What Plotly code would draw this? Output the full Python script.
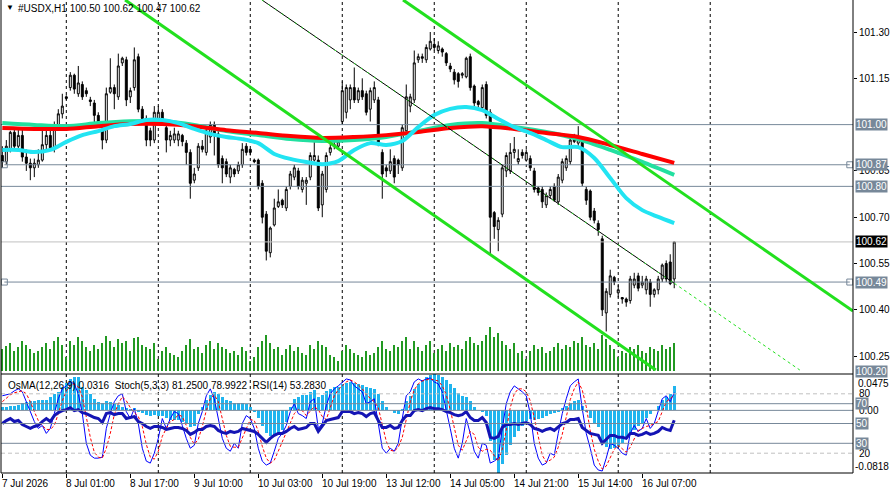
import plotly.graph_objects as go

# ---------------- data ----------------
open_ = [100.90,100.88,100.92,100.975,100.93,100.965,100.895,100.875,100.86,100.87,
         100.885,100.935,100.965,100.925,101.00,101.035,101.09,101.12,101.16,101.10,
         101.13,101.11,101.08,101.07,101.03,100.98,100.95,101.105,101.12,101.09,
         101.20,101.21,101.09,101.12,101.22,101.05,101.02,100.98,100.95,101.02,
         101.04,100.99,100.95,100.95,100.95,100.965,100.94,100.91,100.82,100.86,
         100.93,100.91,100.96,101.00,100.97,100.89,100.88,100.83,100.855,100.85,
         100.87,100.93,100.92,100.885,100.885,100.81,100.71,100.585,100.675,100.735,
         100.755,100.73,100.80,100.83,100.85,100.79,100.81,100.83,100.885,100.885,
         100.74,100.79,100.91,100.93,100.93,101.01,101.04,101.08,101.12,101.08,
         101.11,101.10,101.05,101.08,101.08,100.91,100.86,100.85,100.89,100.885,
         100.86,100.98,101.06,101.08,101.21,101.22,101.21,101.245,101.26,101.24,
         101.245,101.23,101.19,101.17,101.165,101.16,101.155,101.22,101.125,101.075,
         101.055,101.13,101.04,100.715,100.66,100.71,100.85,100.85,100.91,100.88,
         100.91,100.885,100.89,100.85,100.795,100.79,100.74,100.77,100.80,100.75,
         100.82,100.86,100.88,100.945,100.94,100.95,100.79,100.785,100.72,100.68,
         100.63,100.39,100.45,100.505,100.455,100.44,100.435,100.43,100.48,100.51,
         100.48,100.465,100.49,100.45,100.465,100.50,100.55,100.555,100.50]
high_ = [100.93,100.95,100.98,100.99,100.985,100.99,100.92,100.89,100.89,100.92,
         100.99,100.98,100.98,101.01,101.05,101.10,101.095,101.17,101.165,101.19,
         101.14,101.12,101.09,101.08,101.04,101.00,101.12,101.215,101.13,101.23,
         101.22,101.22,101.12,101.25,101.23,101.06,101.03,100.99,101.06,101.06,
         101.05,101.00,100.98,100.99,100.98,100.97,100.95,100.92,100.86,100.94,
         100.95,100.99,101.01,101.01,100.98,100.90,100.89,100.87,100.86,100.88,
         100.94,100.94,100.92,100.89,100.89,100.82,100.72,100.67,100.76,100.79,
         100.76,100.80,100.85,100.87,100.86,100.83,100.83,100.91,100.945,100.90,
         100.85,100.91,100.94,100.95,100.95,101.14,101.13,101.13,101.185,101.12,
         101.15,101.11,101.12,101.14,101.09,100.92,100.87,100.92,100.90,100.89,
         101.00,101.13,101.10,101.24,101.23,101.23,101.26,101.30,101.28,101.27,
         101.25,101.235,101.20,101.18,101.17,101.17,101.22,101.23,101.13,101.08,
         101.13,101.14,101.05,100.72,100.70,100.87,100.91,100.94,100.96,100.92,
         100.92,100.92,100.90,100.86,100.80,100.80,100.78,100.80,100.81,100.84,
         100.89,100.90,100.96,100.97,100.995,100.96,100.80,100.79,100.73,100.69,
         100.64,100.47,100.53,100.51,100.48,100.44,100.44,100.51,100.52,100.52,
         100.51,100.51,100.50,100.47,100.51,100.55,100.56,100.58,100.62]
low_ = [100.86,100.87,100.91,100.92,100.915,100.88,100.85,100.82,100.83,100.86,
        100.88,100.92,100.92,100.91,100.99,101.02,101.08,101.11,101.10,101.09,
        101.08,101.09,101.06,101.00,100.99,100.92,100.94,101.10,101.05,101.08,
        101.19,101.06,101.07,101.11,101.04,101.01,100.93,100.93,100.94,101.01,
        101.00,100.91,100.93,100.94,100.93,100.93,100.87,100.76,100.81,100.85,
        100.91,100.90,100.94,100.90,100.86,100.81,100.83,100.81,100.83,100.84,
        100.86,100.90,100.90,100.875,100.79,100.68,100.56,100.57,100.67,100.73,
        100.73,100.72,100.79,100.82,100.79,100.78,100.74,100.82,100.88,100.72,
        100.70,100.78,100.90,100.92,100.92,101.00,101.02,101.05,101.07,101.07,
        101.08,101.03,101.01,101.07,100.93,100.76,100.83,100.84,100.81,100.84,
        100.85,100.97,101.04,101.07,101.20,101.20,101.20,101.24,101.24,101.23,
        101.22,101.19,101.17,101.13,101.12,101.15,101.15,101.11,101.06,101.05,
        101.05,101.02,100.58,100.63,100.59,100.70,100.83,100.84,100.89,100.87,
        100.89,100.88,100.85,100.78,100.77,100.73,100.73,100.76,100.75,100.74,
        100.81,100.85,100.87,100.94,100.93,100.80,100.74,100.69,100.68,100.64,
        100.38,100.33,100.44,100.48,100.44,100.42,100.41,100.42,100.47,100.46,
        100.47,100.45,100.41,100.44,100.45,100.49,100.49,100.48,100.47]
close_ = [100.88,100.93,100.975,100.93,100.965,100.895,100.875,100.86,100.875,100.885,
          100.935,100.965,100.925,101.00,101.035,101.06,101.085,101.16,101.115,101.135,
          101.09,101.10,101.075,101.03,101.00,100.95,101.10,101.12,101.10,101.19,
          101.215,101.08,101.11,101.21,101.05,101.02,100.95,100.95,101.04,101.04,
          101.01,100.95,100.965,100.97,100.97,100.945,100.91,100.81,100.84,100.93,
          100.92,100.98,101.00,100.97,100.87,100.86,100.84,100.86,100.84,100.87,
          100.92,100.91,100.91,100.88,100.80,100.70,100.59,100.665,100.73,100.75,
          100.74,100.79,100.84,100.86,100.80,100.82,100.82,100.90,100.90,100.73,
          100.84,100.90,100.925,100.935,100.945,101.11,101.12,101.12,101.08,101.11,
          101.09,101.04,101.11,101.12,100.94,100.84,100.85,100.88,100.83,100.87,
          100.99,101.09,101.09,101.20,101.22,101.215,101.25,101.27,101.25,101.255,
          101.235,101.20,101.18,101.145,101.14,101.165,101.215,101.12,101.07,101.065,
          101.12,101.03,100.70,100.67,100.69,100.86,100.90,100.91,100.92,100.89,
          100.90,100.91,100.86,100.79,100.78,100.75,100.77,100.79,100.755,100.83,
          100.88,100.89,100.95,100.95,100.955,100.81,100.755,100.70,100.69,100.66,
          100.40,100.46,100.51,100.49,100.465,100.435,100.425,100.50,100.50,100.47,
          100.49,100.50,100.45,100.465,100.50,100.545,100.50,100.485,100.62]
volume = [2200,2500,2800,2000,2400,3000,2600,2200,1800,2000,2400,2800,2200,3000,3400,2600,
          1400,3000,2600,3400,3000,2400,2000,2600,2200,2800,3500,3000,2400,3200,2800,3000,2000,3300,3400,2600,2400,2200,2800,
          1200,2000,2400,1800,1600,1400,2000,2600,3200,2200,2400,1800,2600,3000,2200,2800,2400,2200,1800,2000,1600,2400,2000,
          1000,1400,2400,3000,3600,2800,2200,2400,1600,2200,2600,2000,2400,1800,1600,2600,2200,3000,2600,2400,1600,1400,1000,
          2000,2600,2200,1800,1600,1400,2000,1600,1800,2400,3000,2200,2000,2600,2400,3000,3400,2200,3000,2400,2000,2600,3000,
          1800,2200,2600,2000,2800,2400,2600,2200,3000,3400,2800,2600,3000,3600,4400,3400,3800,3000,2600,2200,2800,1800,2000,
          1200,2000,2600,2200,2400,1800,2000,2400,2800,2200,2600,2400,3000,2800,3400,2600,2400,2800,2200,3600,3200,2600,2200,
          1400,2000,1800,2400,2200,2600,2000,1800,2400,2200,2000,2600,2200,2400,2800]

# moving averages (sampled along the bars)
ma_idx_8 = list(range(0, 169, 8))
ma_red = [100.989,100.986,100.986,100.995,101.002,101.002,100.995,100.982,100.973,100.963,100.957,
          100.960,100.966,100.976,100.989,100.995,100.986,100.973,100.960,100.934,100.905,100.876]
ma_teal = [101.005,100.999,100.995,101.005,101.011,101.011,100.999,100.979,100.966,100.953,100.947,
           100.950,100.960,100.979,100.999,101.005,100.992,100.976,100.953,100.918,100.879,100.837]
ma_idx_4 = list(range(0, 169, 4))
ma_cyan = [100.918,100.918,100.911,100.918,100.944,100.966,100.979,100.995,101.002,101.015,101.015,
           101.005,100.986,100.970,100.960,100.953,100.940,100.905,100.889,100.879,100.872,100.882,
           100.918,100.940,100.934,100.947,100.992,101.031,101.051,101.057,101.047,101.018,100.992,
           100.973,100.950,100.927,100.927,100.892,100.827,100.762,100.723,100.701,100.681]

# trend / channel lines (bar index, price anchors)
lower_ch_idx = [30.7, 163.4]; lower_ch_px = [101.404, 100.205]
upper_ch_idx = [100.2, 212.7]; upper_ch_px = [101.404, 100.396]
trend_idx = [64.9, 168.0]; trend_px = [101.404, 100.486]
trend_ext_idx = [168.0, 199.4]; trend_ext_px = [100.486, 100.205]

full_levels = [101.00, 100.80]
bottom_level = 100.20
seg_levels = [100.87, 100.49]
seg_idx = [0.5, 211.9]
bid_level = 100.62

osma = [0.004,0.005,0.006,0.006,0.007,0.010,0.011,0.012,0.012,0.013,0.013,0.014,0.018,0.021,0.024,0.030,
        0.036,0.041,0.043,0.044,0.030,0.027,0.022,0.015,0.011,0.009,0.012,0.011,0.008,0.007,0.005,0.003,
        0.002,0.003,-0.002,-0.004,-0.006,-0.007,-0.006,-0.007,
        -0.008,-0.010,-0.012,-0.013,-0.013,-0.015,-0.018,-0.022,-0.020,
        -0.005,0.005,0.013,0.020,0.024,0.022,0.018,0.014,0.012,0.010,0.009,0.010,0.008,0.004,
        -0.002,-0.010,-0.020,-0.030,-0.034,-0.033,-0.030,-0.025,-0.015,0.005,0.015,0.018,0.020,0.020,
        0.024,0.026,0.018,0.020,0.025,0.028,0.030,0.031,
        0.035,0.036,0.037,0.036,0.035,0.033,0.030,0.029,0.028,0.022,0.012,0.004,0.000,-0.004,-0.005,
        0.002,0.012,0.019,0.028,0.035,0.040,0.044,0.046,0.0475,0.046,0.044,0.040,0.035,0.029,0.023,
        0.019,0.018,0.012,0.005,0.000,-0.002,-0.008,
        -0.040,-0.065,-0.0818,-0.070,-0.058,-0.045,-0.035,-0.027,-0.020,-0.014,-0.011,-0.012,-0.011,
        -0.010,-0.008,-0.005,-0.004,-0.001,0.003,0.006,0.010,0.012,0.013,0.006,-0.002,-0.010,-0.016,
        -0.022,-0.040,-0.048,-0.050,-0.049,-0.046,-0.042,-0.038,-0.031,-0.026,-0.021,-0.016,-0.010,
        -0.005,0.000,0.006,0.013,0.018,0.022,0.0316]
stoch_main = [78,79,80,83,85,82,72,62,52,45, 48,40,45,60,75,85,88,92,90,80,
              60,30,18,15,15,16,45,60,72,78, 80,62,55,65,50,25,12,10,20,35,
              55,45,55,62,60,48,35,25,28,50, 62,78,85,75,55,35,25,22,30,25,
              50,58,55,45,25,12,8,10,22,35, 40,48,62,70,60,58,55,72,75,45,
              50,68,80,85,88,92,95,94,88,85, 82,70,72,75,50,25,20,25,22,30,
              55,78,82,92,95,93,95,96,92,90, 82,65,45,25,15,30,55,40,22,15,
              30,28,10,12,15,45,70,82,88,85, 82,78,60,30,15,8,10,20,18,40,
              60,75,88,92,95,65,40,25,8,3, 2,15,30,28,25,20,18,40,48,42,
              45,55,45,50,62,75,78,72,81.25]
stoch_signal = [72,76,79,81,82,83,80,72,62,53, 48,44,44,48,60,73,83,88,90,87,
                77,57,36,21,16,15,25,40,59,70, 77,73,66,61,57,47,29,16,14,22,
                37,45,52,54,59,57,48,36,29,34, 47,63,75,79,72,55,38,27,26,26,
                35,44,54,53,42,27,15,10,13,22, 32,41,50,60,64,63,58,62,67,64,
                57,54,66,78,84,88,92,94,92,89, 85,79,75,72,66,50,32,23,22,26,
                36,54,72,84,90,93,94,95,94,93, 88,79,64,45,28,23,33,42,39,26,
                22,24,23,17,12,24,43,66,80,85, 85,82,73,56,35,18,11,13,16,26,
                39,58,74,85,92,84,67,43,24,12, 4,7,16,24,28,24,21,26,35,43,
                45,47,48,50,52,62,72,75,78.99]
rsi = [50,53,55,52,53,49,47,45,47,48, 52,55,52,58,61,63,64,66,63,64,
       61,60,58,56,55,51,60,61,59,60, 60,55,56,57,52,50,47,45,47,47,
       46,44,45,46,46,45,43,39,41,44, 44,47,48,47,43,41,40,42,41,42,
       45,44,43,42,39,35,31,35,38,40, 40,42,45,47,44,45,46,50,50,42,
       48,53,54,55,56,62,62,62,60,61, 60,57,60,61,53,46,46,48,45,46,
       53,58,58,63,64,63,65,66,65,65, 64,62,61,59,58,59,62,56,53,53,
       56,51,36,35,37,46,49,49,50,49, 50,51,49,45,44,42,44,45,43,47,
       50,51,54,54,55,46,43,40,39,38, 30,34,38,38,36,36,35,40,40,38,
       39,41,39,40,42,46,44,43,53.28]

tick_idx = [0, 16, 32, 48, 64, 80, 96, 112, 128, 144, 160]
tick_text = ["7 Jul 2026", "8 Jul 01:00", "8 Jul 17:00", "9 Jul 10:00", "10 Jul 03:00",
             "10 Jul 19:00", "13 Jul 12:00", "14 Jul 05:00", "14 Jul 21:00", "15 Jul 14:00",
             "16 Jul 07:00"]
day_sep_idx = [16, 39, 62, 85, 108, 131, 154, 177]
price_ticks = [100.25, 100.40, 100.55, 100.70, 100.85, 101.15, 101.30]

# ---------------- figure ----------------
idx = list(range(len(close_)))
FONT = "Liberation Sans"
MAIN_BOTTOM = 0.2156
IND_TOP = 0.2093
SLATE = "#778899"

fig = go.Figure()

fig.add_trace(go.Bar(x=idx, y=volume, xaxis="x", yaxis="y", width=0.45,
                     marker=dict(color="#229922", line=dict(width=0))))

fig.add_trace(go.Candlestick(x=idx, open=open_, high=high_, low=low_, close=close_,
                             xaxis="x", yaxis="y2", whiskerwidth=0,
                             increasing=dict(line=dict(color="black", width=1), fillcolor="white"),
                             decreasing=dict(line=dict(color="black", width=1), fillcolor="black")))

for lv in full_levels:
    fig.add_trace(go.Scatter(x=[-1, 214], y=[lv, lv], xaxis="x", yaxis="y2", mode="lines",
                             line=dict(color=SLATE, width=1)))
fig.add_trace(go.Scatter(x=[-1, 214], y=[bid_level, bid_level], xaxis="x", yaxis="y2", mode="lines",
                         line=dict(color="#c0c0c0", width=1)))
for lv in seg_levels:
    fig.add_trace(go.Scatter(x=seg_idx, y=[lv, lv], xaxis="x", yaxis="y2", mode="lines+markers",
                             line=dict(color=SLATE, width=1),
                             marker=dict(symbol="square-open", size=6, color=SLATE, line=dict(width=1))))

fig.add_trace(go.Scatter(x=ma_idx_8, y=ma_teal, xaxis="x", yaxis="y2", mode="lines",
                         line=dict(color="#22e0a0", width=4, shape="spline", smoothing=0.8)))
fig.add_trace(go.Scatter(x=ma_idx_8, y=ma_red, xaxis="x", yaxis="y2", mode="lines",
                         line=dict(color="#ff0000", width=4, shape="spline", smoothing=0.8)))
fig.add_trace(go.Scatter(x=ma_idx_4, y=ma_cyan, xaxis="x", yaxis="y2", mode="lines",
                         line=dict(color="#22e4f2", width=4, shape="spline", smoothing=0.8)))

for xs, ys in [(lower_ch_idx, lower_ch_px), (upper_ch_idx, upper_ch_px)]:
    fig.add_trace(go.Scatter(x=xs, y=ys, xaxis="x", yaxis="y2", mode="lines",
                             line=dict(color="#22e01e", width=3)))
fig.add_trace(go.Scatter(x=trend_idx, y=trend_px, xaxis="x", yaxis="y2", mode="lines",
                         line=dict(color="black", width=1)))
fig.add_trace(go.Scatter(x=trend_idx, y=trend_px, xaxis="x", yaxis="y2", mode="lines",
                         line=dict(color="#22e01e", width=1, dash="2px,6px")))
fig.add_trace(go.Scatter(x=trend_ext_idx, y=trend_ext_px, xaxis="x", yaxis="y2", mode="lines",
                         line=dict(color="#22e01e", width=1, dash="3px,3px")))

# indicator window
fig.add_trace(go.Bar(x=idx, y=osma, xaxis="x2", yaxis="y3", width=0.65,
                     marker=dict(color="#20b4ee", line=dict(width=0))))
fig.add_trace(go.Scatter(x=idx, y=stoch_main, xaxis="x2", yaxis="y4", mode="lines",
                         line=dict(color="#0000ff", width=1)))
fig.add_trace(go.Scatter(x=idx, y=stoch_signal, xaxis="x2", yaxis="y4", mode="lines",
                         line=dict(color="#ff0000", width=1, dash="3px,2px")))
fig.add_trace(go.Scatter(x=idx, y=rsi, xaxis="x2", yaxis="y4", mode="lines",
                         line=dict(color="#1414b4", width=3)))

shapes = []
for d in day_sep_idx:
    shapes.append(dict(type="line", xref="x", yref="paper", x0=d, x1=d, y0=0, y1=1, layer="below",
                       line=dict(color="black", width=1, dash="3px,3px")))
for lv in [80, 20]:
    shapes.append(dict(type="line", xref="paper", yref="y4", x0=0, x1=1, y0=lv, y1=lv,
                       line=dict(color="#c0c0c0", width=1, dash="4px,3px")))
for lv in [70, 50, 30]:
    shapes.append(dict(type="line", xref="paper", yref="y4", x0=0, x1=1, y0=lv, y1=lv,
                       line=dict(color=SLATE, width=1)))
shapes.append(dict(type="line", xref="paper", yref="y3", x0=0, x1=1, y0=0, y1=0,
                   line=dict(color=SLATE, width=1)))
# frames
shapes += [
    dict(type="line", xref="paper", yref="paper", x0=0, x1=0, y0=0, y1=1, line=dict(color="black", width=1)),
    dict(type="line", xref="paper", yref="paper", x0=1, x1=1, y0=0, y1=1, line=dict(color="black", width=1)),
    dict(type="line", xref="paper", yref="paper", x0=0, x1=1, y0=IND_TOP, y1=IND_TOP, line=dict(color="black", width=1)),
    dict(type="line", xref="paper", yref="paper", x0=0, x1=1, y0=0, y1=0, line=dict(color="black", width=1)),
    dict(type="rect", xref="paper", yref="paper", x0=-0.01, x1=1.05, y0=-0.0465, y1=-0.06,
         fillcolor="#f0f0f0", line=dict(width=0)),
]

ann = []
ann.append(dict(xref="paper", yref="paper", x=0, y=1, xanchor="left", yanchor="top", xshift=3, yshift=-1,
                text="▼", showarrow=False, font=dict(family=FONT, size=8, color="black")))
ann.append(dict(xref="paper", yref="paper", x=0, y=1, xanchor="left", yanchor="top", xshift=15, yshift=-1,
                text="#USDX,H1 100.50 100.62 100.47 100.62", showarrow=False,
                font=dict(family=FONT, size=10, color="black")))
ann.append(dict(xref="paper", yref="paper", x=0, y=IND_TOP, xanchor="left", yanchor="top", xshift=5, yshift=-4,
                text="OsMA(12,26,9) 0.0316\u00a0\u00a0Stoch(5,3,3) 81.2500 78.9922\u00a0\u00a0RSI(14) 53.2830",
                showarrow=False, font=dict(family=FONT, size=10, color="black")))
for t, lab in zip(tick_idx, tick_text):
    ann.append(dict(xref="x2", yref="paper", x=t, y=0, xanchor="left", yanchor="top", xshift=-2, yshift=-3,
                    text=lab, showarrow=False, font=dict(family=FONT, size=10, color="black")))
for lv in full_levels + seg_levels:
    ann.append(dict(xref="paper", yref="y2", x=1, y=lv, xanchor="left", yanchor="middle", xshift=2,
                    text=f"{lv:.2f}", showarrow=False, bgcolor=SLATE, borderpad=0,
                    font=dict(family=FONT, size=10, color="white")))
ann.append(dict(xref="paper", yref="paper", x=1, y=MAIN_BOTTOM, xanchor="left", yanchor="middle", xshift=2,
                text=f"{bottom_level:.2f}", showarrow=False, bgcolor=SLATE, borderpad=0,
                font=dict(family=FONT, size=10, color="white")))
ann.append(dict(xref="paper", yref="y2", x=1, y=bid_level, xanchor="left", yanchor="middle", xshift=2,
                text=f"{bid_level:.2f}", showarrow=False, bgcolor="black", borderpad=0,
                font=dict(family=FONT, size=10, color="white")))
# indicator scale labels
ann.append(dict(xref="paper", yref="y3", x=1, y=0.0475, xanchor="left", yanchor="top", xshift=3, yshift=-2,
                text="0.0475", showarrow=False, font=dict(family=FONT, size=10, color="black")))
ann.append(dict(xref="paper", yref="y3", x=1, y=-0.0818, xanchor="left", yanchor="bottom", xshift=0, yshift=-1,
                text="-0.0818", showarrow=False, font=dict(family=FONT, size=10, color="black")))
ann.append(dict(xref="paper", yref="y3", x=1, y=0, xanchor="left", yanchor="middle", xshift=4,
                text="0.00", showarrow=False, font=dict(family=FONT, size=10, color="black")))
for lv in [80, 20]:
    ann.append(dict(xref="paper", yref="y4", x=1, y=lv, xanchor="left", yanchor="middle", xshift=4,
                    text=str(lv), showarrow=False, font=dict(family=FONT, size=10, color="black")))
for lv in [70, 50, 30]:
    ann.append(dict(xref="paper", yref="y4", x=1, y=lv, xanchor="left", yanchor="middle", xshift=2,
                    text=str(lv), showarrow=False, bgcolor=SLATE, borderpad=0,
                    font=dict(family=FONT, size=10, color="white")))

xr = [-0.33, 212.7]
fig.update_layout(
    width=891, height=495,
    margin=dict(l=1, r=38, t=0, b=22),
    paper_bgcolor="white", plot_bgcolor="white",
    showlegend=False, hovermode=False, bargap=0,
    xaxis=dict(domain=[0, 1], range=xr, anchor="y", showticklabels=False, showgrid=False,
               zeroline=False, ticks="", rangeslider=dict(visible=False), fixedrange=True),
    yaxis=dict(domain=[MAIN_BOTTOM, 1], range=[0, 37100], visible=False, fixedrange=True),
    yaxis2=dict(overlaying="y", anchor="x", side="right", range=[100.2018, 101.4037],
                tickvals=price_ticks, ticktext=[f"{v:.2f}" for v in price_ticks],
                ticks="outside", ticklen=3, tickcolor="black", showgrid=False, zeroline=False,
                showline=False, tickfont=dict(family=FONT, size=10, color="black")),
    xaxis2=dict(domain=[0, 1], range=xr, anchor="y3", matches="x", showgrid=False, zeroline=False,
                showline=False, tickvals=tick_idx, ticks="outside", ticklen=4, tickcolor="black",
                showticklabels=False),
    yaxis3=dict(domain=[0, IND_TOP], anchor="x2", range=[-0.0818, 0.0475], visible=False),
    yaxis4=dict(overlaying="y3", anchor="x2", range=[0, 100], visible=False),
    shapes=shapes, annotations=ann,
)

fig.write_html("out.html")
